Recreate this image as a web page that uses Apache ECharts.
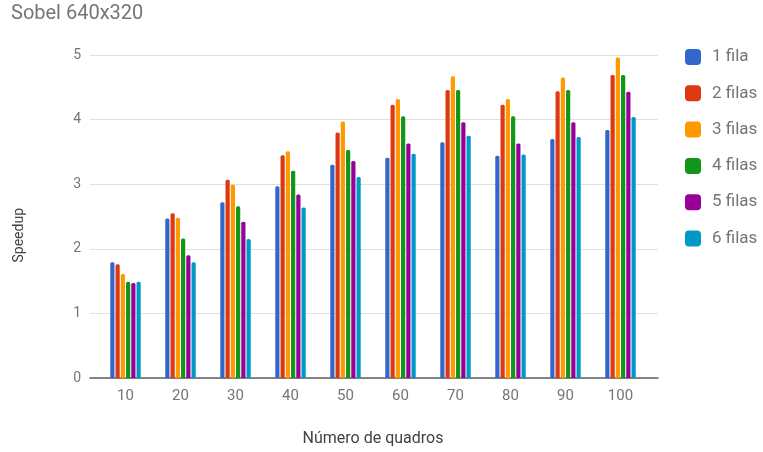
<!DOCTYPE html>
<html>
<head>
<meta charset="utf-8">
<script src="https://cdn.jsdelivr.net/npm/echarts@6/dist/echarts.min.js"></script>
<style>
  html, body { margin: 0; padding: 0; background: #fff; }
  #chart { width: 763px; height: 452px; }
</style>
</head>
<body>
<div id="chart"></div>
<script>
// categorias (número de quadros)
var quadros = ['10', '20', '30', '40', '50', '60', '70', '80', '90', '100'];
var yTicks = [0, 1, 2, 3, 4, 5];

// speedup por número de filas
var fila1 = [1.79, 2.47, 2.72, 2.97, 3.30, 3.41, 3.65, 3.44, 3.70, 3.84];
var filas2 = [1.76, 2.55, 3.07, 3.45, 3.80, 4.23, 4.46, 4.23, 4.44, 4.69];
var filas3 = [1.61, 2.48, 2.99, 3.51, 3.97, 4.32, 4.67, 4.32, 4.65, 4.96];
var filas4 = [1.49, 2.16, 2.66, 3.21, 3.53, 4.05, 4.46, 4.05, 4.46, 4.69];
var filas5 = [1.47, 1.90, 2.42, 2.84, 3.36, 3.63, 3.96, 3.63, 3.96, 4.43];
var filas6 = [1.49, 1.79, 2.15, 2.64, 3.11, 3.47, 3.75, 3.46, 3.73, 4.04];

var nomes = ['1 fila', '2 filas', '3 filas', '4 filas', '5 filas', '6 filas'];
var cores = ['#3366cc', '#dc3912', '#ff9900', '#109618', '#990099', '#0099c6'];
var dados = [fila1, filas2, filas3, filas4, filas5, filas6];

var chart = echarts.init(document.getElementById('chart'));

var option = {
  animation: false,
  color: cores,
  textStyle: { fontFamily: 'Roboto' },
  title: {
    text: 'Sobel 640x320',
    left: 11,
    top: 4,
    padding: 0,
    textStyle: { color: '#757575', fontSize: 20, lineHeight: 20, fontWeight: 'normal', fontFamily: 'Roboto' }
  },
  legend: {
    orient: 'vertical',
    left: 685,
    top: 48,
    padding: 0,
    itemWidth: 16,
    itemHeight: 16,
    itemGap: 18.3,
    icon: 'roundRect',
    data: nomes,
    textStyle: { color: '#757575', fontSize: 17, lineHeight: 18, padding: [0, 0, 0, 6] }
  },
  // grid 0: linhas de grade e eixo (um pouco mais largo); grid 1: barras
  grid: [
    { left: 90, right: 105, top: 55, bottom: 74 },
    { left: 98, right: 115, top: 55, bottom: 74 }
  ],
  xAxis: [
    {
      gridIndex: 0,
      type: 'value',
      min: 0,
      max: 1,
      axisLine: { show: true, lineStyle: { color: '#616161', width: 1.5 } },
      axisTick: { show: false },
      axisLabel: { show: false },
      splitLine: { show: false }
    },
    {
      gridIndex: 1,
      type: 'category',
      data: quadros,
      name: 'Número de quadros',
      nameLocation: 'middle',
      nameGap: 53,
      nameTextStyle: { color: '#424242', fontSize: 16 },
      axisLine: { show: false },
      axisTick: { show: false },
      axisLabel: { color: '#757575', fontSize: 15, margin: 10.5 }
    }
  ],
  yAxis: [
    {
      gridIndex: 0,
      type: 'value',
      min: yTicks[0],
      max: yTicks[yTicks.length - 1],
      interval: 1,
      axisLine: { show: false },
      axisTick: { show: false },
      axisLabel: { color: '#757575', fontSize: 14, margin: 9 },
      splitLine: { lineStyle: { color: '#e0e0e0', width: 1 } }
    },
    {
      gridIndex: 1,
      type: 'value',
      min: yTicks[0],
      max: yTicks[yTicks.length - 1],
      show: false
    }
  ],
  graphic: [
    {
      type: 'text',
      left: 12,
      top: 208,
      rotation: Math.PI / 2,
      style: { text: 'Speedup', fill: '#424242', fontSize: 14, fontFamily: 'Roboto' }
    }
  ],
  series: dados.map(function (d, i) {
    return {
      name: nomes[i],
      type: 'bar',
      xAxisIndex: 1,
      yAxisIndex: 1,
      data: d,
      barWidth: 4.2,
      barGap: '25%',
      itemStyle: { borderRadius: [1.5, 1.5, 0, 0] }
    };
  })
};

chart.setOption(option);
</script>
</body>
</html>
